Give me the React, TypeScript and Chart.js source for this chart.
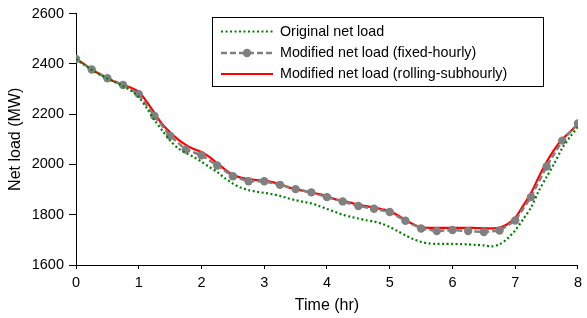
import React, { useEffect, useRef } from "react";
import { Chart, registerables } from "chart.js";

Chart.register(...registerables);

// ---- Data ----
const fineTimes = [
  0, 0.125, 0.25, 0.375, 0.5, 0.625, 0.75, 0.875,
  1, 1.125, 1.25, 1.375, 1.5, 1.625, 1.75, 1.875,
  2, 2.125, 2.25, 2.375, 2.5, 2.625, 2.75, 2.875,
  3, 3.125, 3.25, 3.375, 3.5, 3.625, 3.75, 3.875,
  4, 4.125, 4.25, 4.375, 4.5, 4.625, 4.75, 4.875,
  5, 5.125, 5.25, 5.375, 5.5, 5.625, 5.75, 5.875,
  6, 6.125, 6.25, 6.375, 6.5, 6.625, 6.75, 6.875,
  7, 7.125, 7.25, 7.375, 7.5, 7.625, 7.75, 7.875, 8,
];

const originalLoad = [
  2420, 2398, 2377, 2358, 2342, 2328, 2312, 2294,
  2268, 2225, 2177, 2135, 2095, 2065, 2046, 2030,
  2011, 1990, 1970, 1945, 1924, 1908, 1898, 1892,
  1887, 1882, 1875, 1866, 1858, 1851, 1845, 1835,
  1823, 1812, 1800, 1792, 1785, 1778, 1773, 1764,
  1751, 1735, 1718, 1703, 1692, 1686, 1684, 1684,
  1684, 1683, 1682, 1680, 1678, 1674, 1682, 1705,
  1738, 1782, 1828, 1895, 1950, 2005, 2065, 2110, 2150,
];

const rollingLoad = [
  2420, 2400, 2378, 2360, 2343, 2328, 2318, 2305,
  2290, 2250, 2205, 2160, 2128, 2100, 2078, 2062,
  2050, 2030, 2005, 1980, 1958, 1948, 1942, 1938,
  1936, 1930, 1922, 1910, 1902, 1895, 1888, 1882,
  1874, 1862, 1856, 1848, 1840, 1834, 1828, 1822,
  1815, 1798, 1780, 1762, 1750, 1748, 1748, 1748,
  1748, 1748, 1748, 1747, 1746, 1746, 1748, 1762,
  1788, 1835, 1885, 1950, 2010, 2060, 2100, 2130, 2160,
];

const hourlyTimes = [
  0, 0.25, 0.5, 0.75, 1, 1.25, 1.5, 1.75,
  2, 2.25, 2.5, 2.75, 3, 3.25, 3.5, 3.75,
  4, 4.25, 4.5, 4.75, 5, 5.25, 5.5, 5.75,
  6, 6.25, 6.5, 6.75, 7, 7.25, 7.5, 7.75, 8,
];

const fixedLoad = [
  2420, 2378, 2343, 2316, 2280, 2193, 2114, 2059,
  2037, 1996, 1953, 1933, 1933, 1919, 1902, 1889,
  1870, 1853, 1835, 1824, 1811, 1776, 1745, 1735,
  1739, 1735, 1731, 1737, 1777, 1870, 1992, 2095, 2163,
];

const seriesLabels = [
  "Original net load",
  "Modified net load (fixed-hourly)",
  "Modified net load (rolling-subhourly)",
];

const yTicks = [1600, 1800, 2000, 2200, 2400, 2600];
const xTicks = [0, 1, 2, 3, 4, 5, 6, 7, 8];

const FONT = "Arial, 'Liberation Sans', sans-serif";

const toPoints = (xs: number[], ys: number[]) =>
  xs.map((x, i) => ({ x, y: ys[i] }));

const legendPlugin = {
  id: "boxLegend",
  afterDraw(chart: any) {
    const ctx = chart.ctx as CanvasRenderingContext2D;
    const bx = 212.5, by = 17.5, bw = 331, bh = 69;
    ctx.save();
    ctx.fillStyle = "#fff";
    ctx.fillRect(bx, by, bw, bh);
    ctx.strokeStyle = "#000";
    ctx.lineWidth = 1;
    ctx.setLineDash([]);
    ctx.strokeRect(bx, by, bw, bh);
    const rows = [31.5, 53, 74];
    const x1 = 221, x2 = 273, tx = 280;
    const ds = chart.data.datasets;
    [0, 1, 2].forEach((di: number, r: number) => {
      const d = ds[di];
      const y = rows[r];
      ctx.save();
      ctx.strokeStyle = d.borderColor;
      ctx.lineWidth = d.borderWidth;
      ctx.setLineDash(d.borderDash || []);
      ctx.beginPath();
      ctx.moveTo(x1, y);
      ctx.lineTo(x2, y);
      ctx.stroke();
      if (d.pointRadius && d.pointRadius > 0) {
        ctx.setLineDash([]);
        ctx.fillStyle = d.pointBackgroundColor;
        ctx.beginPath();
        ctx.arc((x1 + x2) / 2, y, d.pointRadius, 0, Math.PI * 2);
        ctx.fill();
      }
      ctx.restore();
      ctx.fillStyle = "#000";
      ctx.font = `14.3px ${FONT}`;
      ctx.textBaseline = "middle";
      ctx.textAlign = "left";
      ctx.fillText(d.label, tx, y + 0.5);
    });
    ctx.restore();
  },
};

export default function App() {
  const canvasRef = useRef<HTMLCanvasElement | null>(null);

  useEffect(() => {
    document.body.style.margin = "0";
    const canvas = canvasRef.current;
    if (!canvas) return;
    const chart = new Chart(canvas, {
      type: "line",
      data: {
        datasets: [
          {
            label: seriesLabels[0],
            data: toPoints(fineTimes, originalLoad),
            borderColor: "#008000",
            borderWidth: 2.2,
            borderDash: [2, 2.5],
            pointRadius: 0,
            fill: false,
            tension: 0.3,
            order: 0,
          },
          {
            label: seriesLabels[1],
            data: toPoints(hourlyTimes, fixedLoad),
            borderColor: "#808080",
            borderWidth: 2.5,
            borderDash: [6, 3],
            pointRadius: 4.2,
            pointBackgroundColor: "#808080",
            pointBorderWidth: 0,
            pointBorderColor: "#808080",
            fill: false,
            tension: 0,
            order: 1,
          },
          {
            label: seriesLabels[2],
            data: toPoints(fineTimes, rollingLoad),
            borderColor: "#ff0000",
            borderWidth: 2.2,
            pointRadius: 0,
            fill: false,
            tension: 0.3,
            order: 2,
          },
        ],
      },
      options: {
        responsive: false,
        animation: false,
        events: [],
        layout: { padding: { left: 0, right: 4, top: 11, bottom: 0 } },
        plugins: {
          legend: { display: false },
          tooltip: { enabled: false },
        },
        scales: {
          x: {
            type: "linear",
            min: 0,
            max: 8,
            afterBuildTicks: (s: any) => {
              s.ticks = xTicks.map((v) => ({ value: v }));
            },
            ticks: {
              color: "#000",
              font: { family: FONT, size: 14.5 },
              padding: 5,
              maxRotation: 0,
              callback: (v: any) => String(v),
            },
            grid: {
              display: true,
              drawOnChartArea: false,
              drawTicks: true,
              tickLength: 4,
              color: "#000",
            },
            border: { display: true, color: "#000", width: 1 },
            title: {
              display: true,
              text: "Time (hr)",
              color: "#000",
              font: { family: FONT, size: 16 },
              padding: { top: 0, bottom: 3 },
            },
            afterFit: (s: any) => {
              s.height = 53;
            },
          },
          y: {
            type: "linear",
            min: 1600,
            max: 2600,
            afterBuildTicks: (s: any) => {
              s.ticks = yTicks.map((v) => ({ value: v }));
            },
            ticks: {
              color: "#000",
              font: { family: FONT, size: 14.5 },
              padding: 5,
              callback: (v: any) => String(v),
            },
            grid: {
              display: true,
              drawOnChartArea: false,
              drawTicks: true,
              tickLength: 7,
              color: "#000",
            },
            border: { display: true, color: "#000", width: 1 },
            title: {
              display: true,
              text: "Net load (MW)",
              color: "#000",
              font: { family: FONT, size: 16 },
              padding: { top: 6, bottom: 0 },
            },
            afterFit: (s: any) => {
              s.width = 76;
            },
          },
        },
      },
      plugins: [legendPlugin],
    } as any);
    return () => chart.destroy();
  }, []);

  return (
    <div style={{ width: 587, height: 318, background: "#fff" }}>
      <canvas ref={canvasRef} width={587} height={318} />
    </div>
  );
}
